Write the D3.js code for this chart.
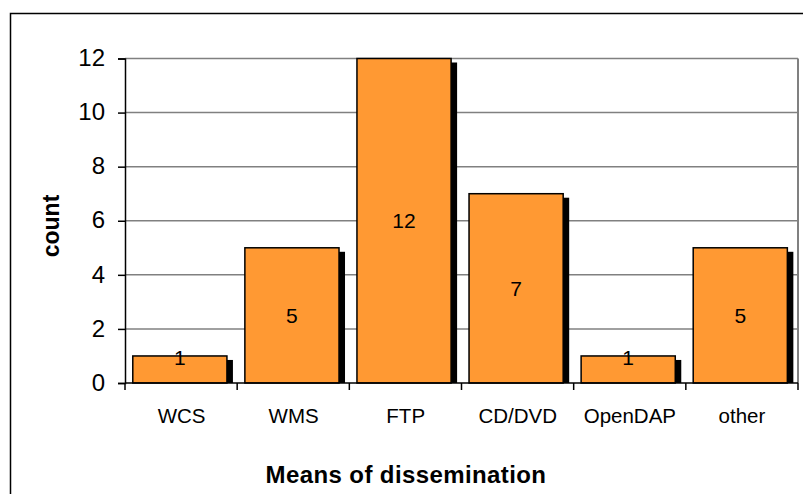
<!DOCTYPE html>
<html><head><meta charset="utf-8">
<script src="https://cdn.jsdelivr.net/npm/d3@7"></script>
<style>body{margin:0;background:#fff}svg{display:block;font-family:Arial,"Liberation Sans",sans-serif}</style>
</head><body><svg id="c" width="803" height="494"></svg>
<script>
const categories = ["WCS","WMS","FTP","CD/DVD","OpenDAP","other"];
const counts = [1,5,12,7,1,5];
const yTicks = [0,2,4,6,8,10,12];
const xTitle = "Means of dissemination";
const yTitle = "count";

const svg = d3.select("#c");
const L = 125, R = 798, T = 58.5, B = 383;
const x = d3.scaleBand().domain(categories).range([L+0.5, R]).paddingInner(0).paddingOuter(0);
const y = d3.scaleLinear().domain([0,12]).range([B, T]);

// outer chart border
svg.append("rect").attr("x",10.5).attr("y",13.5).attr("width",810).attr("height",500)
  .attr("fill","none").attr("stroke","#000").attr("stroke-width",1.5);

// gridlines
svg.append("g").selectAll("line").data(yTicks.filter(d=>d>0)).join("line")
  .attr("x1",L).attr("x2",R).attr("y1",d=>y(d)).attr("y2",d=>y(d))
  .attr("stroke","#808080").attr("stroke-width",1.5);
// right border of plot
svg.append("line").attr("x1",R).attr("x2",R).attr("y1",T).attr("y2",B)
  .attr("stroke","#808080").attr("stroke-width",2);

const bw = x.bandwidth()*0.84;
const off = x.bandwidth()*0.065;
// shadows
svg.append("g").selectAll("rect").data(counts).join("rect")
  .attr("x",(d,i)=>x(categories[i])+off+6).attr("y",d=>y(d)+4)
  .attr("width",bw).attr("height",d=>B-y(d)-4).attr("fill","#000");
// bars
svg.append("g").selectAll("rect").data(counts).join("rect")
  .attr("x",(d,i)=>x(categories[i])+off).attr("y",d=>y(d))
  .attr("width",bw).attr("height",d=>B-y(d))
  .attr("fill","#FF9933").attr("stroke","#000").attr("stroke-width",1.5);
// bar labels
svg.append("g").selectAll("text").data(counts).join("text")
  .attr("x",(d,i)=>x(categories[i])+off+bw/2)
  .attr("y",d=>(B-y(d) < 40 ? y(d)+1 : y(d/2)))
  .attr("dy","0.36em").attr("text-anchor","middle").attr("font-size",21).attr("fill","#000")
  .text(d=>d);

// y axis
const ya = svg.append("g").attr("transform",`translate(${L},0)`)
  .call(d3.axisLeft(y).tickValues(yTicks).tickSize(7).tickPadding(13));
ya.select(".domain").attr("stroke","#000").attr("stroke-width",1.5);
ya.selectAll(".tick line").attr("stroke","#000").attr("stroke-width",1.5);
ya.selectAll("text").attr("font-size",24).attr("font-family","Arial, 'Liberation Sans', sans-serif").attr("fill","#000").attr("dy","0.3em");

// x axis
const xt = d3.scaleLinear().domain([0,categories.length]).range([L,R]);
const xa = svg.append("g").attr("transform",`translate(0,${B})`);
xa.append("line").attr("x1",L).attr("x2",R).attr("stroke","#000").attr("stroke-width",1.5);
xa.selectAll("line.t").data(d3.range(categories.length+1)).join("line").attr("class","t")
  .attr("x1",d=>xt(d)).attr("x2",d=>xt(d)).attr("y1",0).attr("y2",7)
  .attr("stroke","#000").attr("stroke-width",1.5);
xa.selectAll("text").data(categories).join("text")
  .attr("x",d=>x(d)+x.bandwidth()/2).attr("y",40)
  .attr("text-anchor","middle").attr("font-size",20.5).attr("fill","#000").text(d=>d);

// titles
svg.append("text").attr("x",406).attr("y",483).attr("text-anchor","middle")
  .attr("font-size",24).attr("font-weight","bold").attr("letter-spacing",0.4).text(xTitle);
svg.append("text").attr("transform","translate(59,226) rotate(-90)").attr("text-anchor","middle")
  .attr("font-size",23).attr("font-weight","bold").text(yTitle);
</script></body></html>
